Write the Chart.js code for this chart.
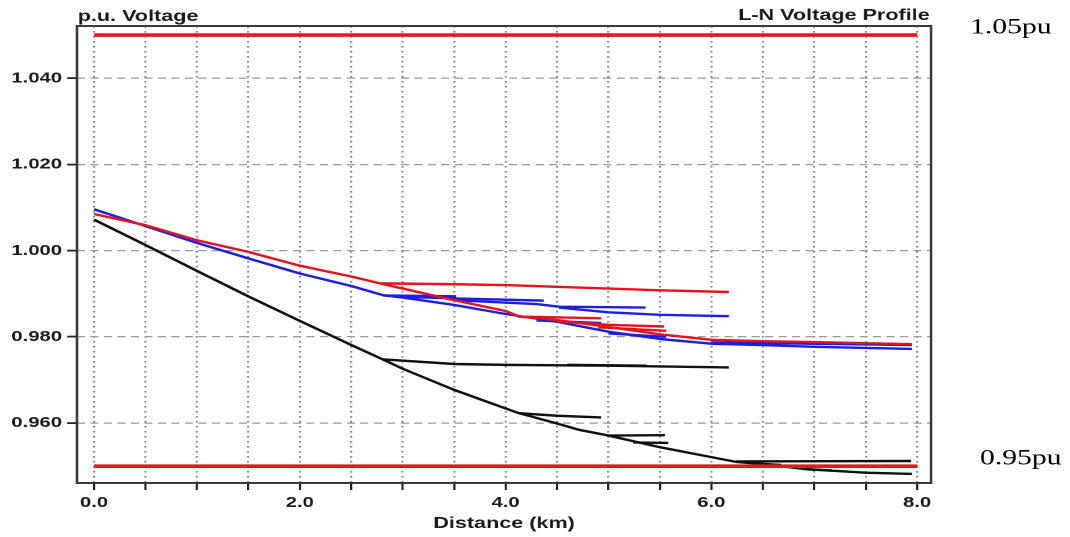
<!DOCTYPE html>
<html>
<head>
<meta charset="utf-8">
<script src="https://cdn.jsdelivr.net/npm/chart.js@4.4.1/dist/chart.umd.min.js"></script>
<style>
  html, body { margin: 0; padding: 0; background: #ffffff; }
  #wrap { position: absolute; left: 0; top: 0; width: 793px; height: 537px;
          transform: scaleX(1.34931); transform-origin: 0 0; }
</style>
</head>
<body>
<div id="wrap"><canvas id="c" width="793" height="537"></canvas></div>
<script>
// ---- data (distance km, voltage p.u.) ----
const xTicks = [0, 0.5, 1, 1.5, 2, 2.5, 3, 3.5, 4, 4.5, 5, 5.5, 6, 6.5, 7, 7.5, 8];
const xLabelValues = [0, 2, 4, 6, 8];
const yTicks = [0.96, 0.98, 1.00, 1.02, 1.04];

const limitHigh = [[0, 1.05], [8, 1.05]];
const limitLow  = [[0, 0.95], [8, 0.95]];

const blackTrunk = [[0,1.0072],[0.5,1.0013],[1.0,0.9953],[1.5,0.9894],[2.0,0.9837],[2.5,0.9781],[2.84,0.9744],[3.0,0.9726],[3.5,0.9677],[4.0,0.9634],[4.13,0.9623],[4.5,0.9599],[4.72,0.9584],[5.0,0.9571],[5.5,0.9544],[6.0,0.9521],[6.24,0.9510],[6.5,0.9505],[6.92,0.9493],[7.5,0.9485],[7.95,0.9482]];
const blackLat1 = [[2.80,0.9748],[3.5,0.9737],[4.0,0.9735],[5.0,0.9733],[6.17,0.9729]];
const blackLat1b = [[4.6,0.9735],[5.37,0.9733]];
const blackLat2 = [[4.13,0.9623],[4.5,0.9617],[4.93,0.9613]];
const blackLat3 = [[4.99,0.9571],[5.55,0.9572]];
const blackLat4 = [[5.24,0.9555],[5.58,0.9554]];
const blackLat5 = [[6.24,0.9511],[7.94,0.9512]];
const blackLat6 = [[6.44,0.9506],[6.68,0.9503]];
const blackLat7 = [[6.92,0.9493],[7.17,0.9490]];

const redTrunk = [[0,1.0085],[0.5,1.0059],[1.0,1.0024],[1.5,0.9997],[2.0,0.9965],[2.5,0.9940],[2.78,0.9924],[3.0,0.9912],[3.5,0.9885],[4.0,0.9860],[4.13,0.9847],[4.5,0.9839],[5.0,0.9823],[5.5,0.9806],[6.0,0.9793],[6.5,0.9790],[7.0,0.9788],[7.95,0.9783]];
const redLat1 = [[2.78,0.9924],[3.5,0.9922],[4.0,0.9920],[4.5,0.9916],[5.0,0.9912],[5.5,0.9908],[6.17,0.9904]];
const redLat2 = [[4.13,0.9847],[4.93,0.9843]];
const redLat3 = [[4.5,0.9836],[5.0,0.9828],[5.54,0.9824]];
const redLat4 = [[4.9,0.9822],[5.56,0.9814]];

const blueTrunk = [[0,1.0096],[0.5,1.0057],[1.0,1.0018],[1.5,0.9982],[2.0,0.9947],[2.5,0.9918],[2.82,0.9896],[3.0,0.9891],[3.5,0.9874],[4.0,0.9853],[4.5,0.9835],[5.0,0.9812],[5.5,0.9795],[6.0,0.9784],[6.5,0.9781],[7.0,0.9777],[7.95,0.9772]];
const blueLat1 = [[2.82,0.9896],[3.52,0.9894]];
const blueLat2 = [[3.0,0.9893],[3.5,0.9889],[4.37,0.9884]];
const blueLat3 = [[3.5,0.9885],[4.3,0.9876],[4.52,0.9870],[5.36,0.9868]];
const blueLat4 = [[4.52,0.9868],[5.0,0.9857],[5.5,0.9851],[6.17,0.9848]];
const blueLat5 = [[4.3,0.9838],[4.93,0.9832]];
const blueLat6 = [[5.0,0.9808],[5.56,0.9800]];
const blueLat7 = [[6.0,0.9787],[7.95,0.9781]];

// ---- styling ----
const RED = '#e3141c', BLUE = '#1c1ee0', BLACK = '#111111', LIMIT = '#e8161e';
const LW = 2.4;
function line(pts, color, width) {
  return { data: pts.map(([x, y]) => ({ x, y })), borderColor: color, borderWidth: width,
           showLine: true, pointRadius: 0, fill: false, tension: 0,
           borderJoinStyle: 'round', borderCapStyle: 'butt' };
}
const datasets = [
  line(limitHigh, LIMIT, 3.6), line(limitLow, LIMIT, 3.6),
  line(redTrunk, RED, LW), line(redLat1, RED, LW), line(redLat2, RED, LW), line(redLat3, RED, LW), line(redLat4, RED, LW),
  line(blueTrunk, BLUE, LW), line(blueLat1, BLUE, LW), line(blueLat2, BLUE, LW), line(blueLat3, BLUE, LW),
  line(blueLat4, BLUE, LW), line(blueLat5, BLUE, LW), line(blueLat6, BLUE, LW), line(blueLat7, BLUE, LW),
  line(blackTrunk, BLACK, LW), line(blackLat1, BLACK, LW), line(blackLat1b, BLACK, LW), line(blackLat2, BLACK, LW),
  line(blackLat3, BLACK, LW), line(blackLat4, BLACK, LW), line(blackLat5, BLACK, LW), line(blackLat6, BLACK, LW),
  line(blackLat7, BLACK, LW)
];

const SANS = '"Liberation Sans", Arial, sans-serif';
const deco = {
  id: 'deco',
  afterDraw(chart) {
    const { ctx, chartArea: a } = chart;
    ctx.save();
    ctx.strokeStyle = '#3a3a3a';
    ctx.lineWidth = 2;
    ctx.strokeRect(a.left, a.top, a.right - a.left, a.bottom - a.top);
    ctx.fillStyle = '#1a1a1a';
    ctx.font = 'bold 16px ' + SANS;
    ctx.textBaseline = 'alphabetic';
    ctx.textAlign = 'left';
    ctx.fillText('p.u. Voltage', a.left + 0.5, 21);
    ctx.textAlign = 'right';
    ctx.fillText('L-N Voltage Profile', a.right - 1, 20);
    ctx.fillStyle = '#000000';
    ctx.font = '22px "Liberation Serif", "Times New Roman", serif';
    ctx.textAlign = 'left';
    ctx.fillText('1.05pu', 718.9, 33.3);
    ctx.fillText('0.95pu', 726.3, 464.5);
    ctx.restore();
  }
};

new Chart(document.getElementById('c'), {
  type: 'scatter',
  data: { datasets },
  plugins: [deco],
  options: {
    responsive: false,
    animation: false,
    devicePixelRatio: 2,
    layout: { padding: { left: 0, right: 103, top: 26, bottom: 0 } },
    plugins: { legend: { display: false }, tooltip: { enabled: false }, title: { display: false } },
    scales: {
      x: {
        type: 'linear', min: -0.165, max: 8.135, offset: false,
        afterFit(s) { s.height = 54; },
        afterBuildTicks(s) { s.ticks = xTicks.map(v => ({ value: v })); },
        ticks: {
          autoSkip: false, maxRotation: 0, minRotation: 0, padding: 4,
          color: '#1a1a1a', font: { family: SANS, size: 15, weight: 'bold' },
          callback: v => xLabelValues.includes(v) ? v.toFixed(1) : ''
        },
        grid: { color: '#8c8c8c', lineWidth: 1.6, drawTicks: true, tickLength: 7,
                tickColor: '#222222', tickWidth: 1.6, tickBorderDash: [] },
        border: { display: false, dash: [1.6, 3.4] },
        title: { display: true, text: 'Distance (km)', color: '#1a1a1a',
                 font: { family: SANS, size: 16, weight: 'bold' }, padding: { top: 0, bottom: 4 } }
      },
      y: {
        type: 'linear', min: 0.9461, max: 1.0521,
        afterFit(s) { s.width = 57.07; },
        afterBuildTicks(s) { s.ticks = yTicks.map(v => ({ value: v })); },
        ticks: {
          autoSkip: false, padding: 3.7,
          color: '#1a1a1a', font: { family: SANS, size: 15, weight: 'bold' },
          callback: v => v.toFixed(3)
        },
        grid: { color: '#9a9a9a', lineWidth: 1.2, drawTicks: true, tickLength: 7.4,
                tickColor: '#222222', tickWidth: 1.8, tickBorderDash: [] },
        border: { display: false, dash: [6, 4] }
      }
    }
  }
});
</script>
</body>
</html>
